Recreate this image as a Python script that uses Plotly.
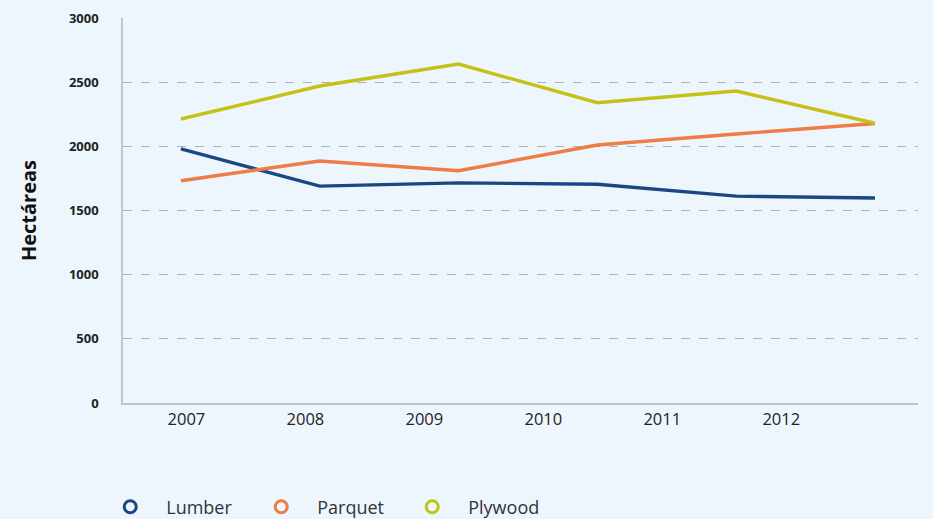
import plotly.graph_objects as go

years = [2007, 2008, 2009, 2010, 2011, 2012]
tick_labels = ["2007", "2008", "2009", "2010", "2011", "2012"]
lumber = [1980, 1690, 1715, 1705, 1612, 1597]
parquet = [1732, 1886, 1810, 2010, 2096, 2178]
plywood = [2213, 2470, 2641, 2340, 2431, 2180]

series = [("Lumber", lumber, "#1A4784"), ("Parquet", parquet, "#F07B46"), ("Plywood", plywood, "#C4C216")]

# label positions along the axis (labels are spaced tighter than the data points)
label_pos = [years[0] + 0.04 + 0.857 * i for i in range(len(years))]

fig = go.Figure()
for name, vals, col in series:
    fig.add_trace(go.Scatter(x=years, y=vals, mode="lines", name=name,
                             line=dict(color=col, width=3.4), showlegend=False))
for name, vals, col in series:
    fig.add_trace(go.Scatter(x=[None], y=[None], mode="markers", name=name,
                             marker=dict(symbol="circle-open", size=12, color=col,
                                         line=dict(width=3, color=col))))

bg = "#EEF6FD"
fig.update_layout(
    width=933, height=519,
    paper_bgcolor=bg, plot_bgcolor=bg,
    margin=dict(l=123, r=15, t=18, b=116, autoexpand=False),
    font=dict(family="Open Sans", color="#222"),
    xaxis=dict(range=[2006.583, 2012.31], tickvals=label_pos, ticktext=tick_labels,
               showgrid=False, showline=True, linecolor="#BFC6CC", linewidth=1.5,
               tickfont=dict(size=16.5, color="#222"), ticks="", zeroline=False),
    yaxis=dict(range=[0, 3000], tickvals=[0, 500, 1000, 1500, 2000, 2500, 3000],
               showgrid=True, gridcolor="#AFB3B6", griddash="dash", gridwidth=1,
               showline=True, linecolor="#BFC6CC", linewidth=1.5, zeroline=False,
               tickfont=dict(size=13, color="#222", family="Open Sans", weight="bold"),
               ticks="", ticklabelstandoff=20,
               title=dict(text="<b>Hectáreas</b>", font=dict(size=20, color="#111"), standoff=27)),
    legend=dict(orientation="h", x=0.101, xanchor="left", y=0.023, yanchor="middle",
                xref="container", yref="container", font=dict(size=18, color="#333"),
                entrywidth=74, entrywidthmode="pixels", itemwidth=62),
)
fig.write_html("out.html", config={"displayModeBar": False},
               post_script="document.body.style.margin='0';document.body.style.background='#EEF6FD';")
